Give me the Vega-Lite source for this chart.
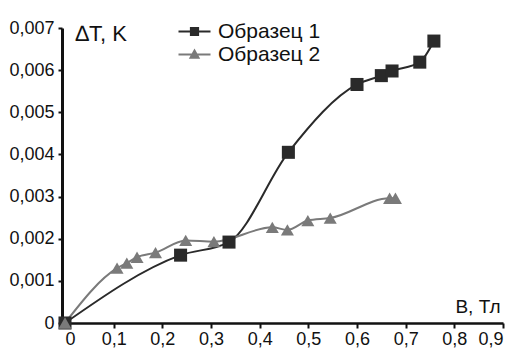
{
  "$schema": "https://vega.github.io/schema/vega-lite/v6.json",
  "autosize": "none",
  "width": 438,
  "height": 295,
  "padding": {"left": 65, "top": 28, "right": 26, "bottom": 35},
  "background": "white",
  "config": {
    "font": "Liberation Sans",
    "view": {"stroke": null}
  },
  "data": {
    "values": [
      {"s": "Образец 1", "b": 0, "t": 0},
      {"s": "Образец 1", "b": 0.2375, "t": 0.00161},
      {"s": "Образец 1", "b": 0.337, "t": 0.00192},
      {"s": "Образец 1", "b": 0.459, "t": 0.00405},
      {"s": "Образец 1", "b": 0.600, "t": 0.00566},
      {"s": "Образец 1", "b": 0.650, "t": 0.00587},
      {"s": "Образец 1", "b": 0.672, "t": 0.00598},
      {"s": "Образец 1", "b": 0.729, "t": 0.00619},
      {"s": "Образец 1", "b": 0.758, "t": 0.00669},
      {"s": "Образец 2", "b": 0, "t": 0},
      {"s": "Образец 2", "b": 0.107, "t": 0.0013},
      {"s": "Образец 2", "b": 0.127, "t": 0.00142},
      {"s": "Образец 2", "b": 0.148, "t": 0.00156},
      {"s": "Образец 2", "b": 0.186, "t": 0.00167},
      {"s": "Образец 2", "b": 0.248, "t": 0.00196},
      {"s": "Образец 2", "b": 0.306, "t": 0.00193},
      {"s": "Образец 2", "b": 0.426, "t": 0.00227},
      {"s": "Образец 2", "b": 0.457, "t": 0.00221},
      {"s": "Образец 2", "b": 0.499, "t": 0.00243},
      {"s": "Образец 2", "b": 0.545, "t": 0.00249},
      {"s": "Образец 2", "b": 0.667, "t": 0.00296},
      {"s": "Образец 2", "b": 0.679, "t": 0.00296}
    ]
  },
  "encoding": {
    "x": {
      "field": "b", "type": "quantitative",
      "scale": {"domain": [0, 0.9], "nice": false, "zero": true},
      "axis": {
        "values": [0, 0.1, 0.2, 0.3, 0.4, 0.5, 0.6, 0.7, 0.8, 0.9],
        "labelExpr": "replace(format(datum.value, '~g'), '.', ',')",
        "grid": false,
        "domainColor": "#111", "domainWidth": 2.5,
        "tickColor": "#111", "tickWidth": 2, "tickSize": 5,
        "labelFontSize": 18, "labelColor": "#111", "labelPadding": 2,
        "title": "B, Тл", "titleFontSize": 19, "titleFontWeight": "normal", "titleColor": "#111",
        "titleX": 435, "titleY": -17, "titleAlign": "right", "titleBaseline": "middle"
      }
    },
    "y": {
      "field": "t", "type": "quantitative",
      "scale": {"domain": [0, 0.007], "nice": false},
      "axis": {
        "values": [0, 0.001, 0.002, 0.003, 0.004, 0.005, 0.006, 0.007],
        "labelExpr": "replace(format(datum.value, '~g'), '.', ',')",
        "grid": false,
        "offset": 3,
        "domainColor": "#111", "domainWidth": 3,
        "tickColor": "#111", "tickWidth": 2, "tickSize": 4,
        "labelFontSize": 18, "labelColor": "#111", "labelPadding": 4,
        "title": "∆T, K", "titleFontSize": 22, "titleFontWeight": "normal", "titleColor": "#111",
        "titleAngle": 0, "titleX": 13, "titleY": 5, "titleAlign": "left", "titleBaseline": "middle"
      }
    },
    "color": {
      "field": "s", "type": "nominal",
      "scale": {"domain": ["Образец 1", "Образец 2"], "range": ["#2a2a2a", "#7a7a7a"]},
      "legend": {
        "title": null,
        "orient": "none",
        "legendX": 111,
        "legendY": -7,
        "padding": 0,
        "symbolSize": 256,
        "symbolStrokeWidth": 2,
        "labelFontSize": 21,
        "labelColor": "#111",
        "labelOffset": 21,
        "rowPadding": 1,
        "encode": {
          "symbols": {
            "update": {
              "shape": {"signal": "datum.value == 'Образец 1' ? 'M-1,0H3M0.55,-0.45H1.45V0.45H0.55Z' : 'M-1,0H3M1,-0.5L1.5,0.4H0.5Z'"},
              "fill": {"signal": "datum.value == 'Образец 1' ? '#2a2a2a' : '#7a7a7a'"},
              "stroke": {"signal": "datum.value == 'Образец 1' ? '#2a2a2a' : '#7a7a7a'"},
              "fillOpacity": {"value": 1},
              "strokeWidth": {"value": 2}
            }
          }
        }
      }
    }
  },
  "layer": [
    {
      "mark": {"type": "line", "interpolate": "monotone", "strokeWidth": 2}
    },
    {
      "transform": [{"filter": "datum.s == 'Образец 1'"}],
      "mark": {"type": "point", "shape": "square", "filled": true, "opacity": 1, "size": 170}
    },
    {
      "transform": [{"filter": "datum.s == 'Образец 2'"}],
      "mark": {"type": "point", "shape": "triangle-up", "filled": true, "opacity": 1, "size": 170}
    }
  ]
}
